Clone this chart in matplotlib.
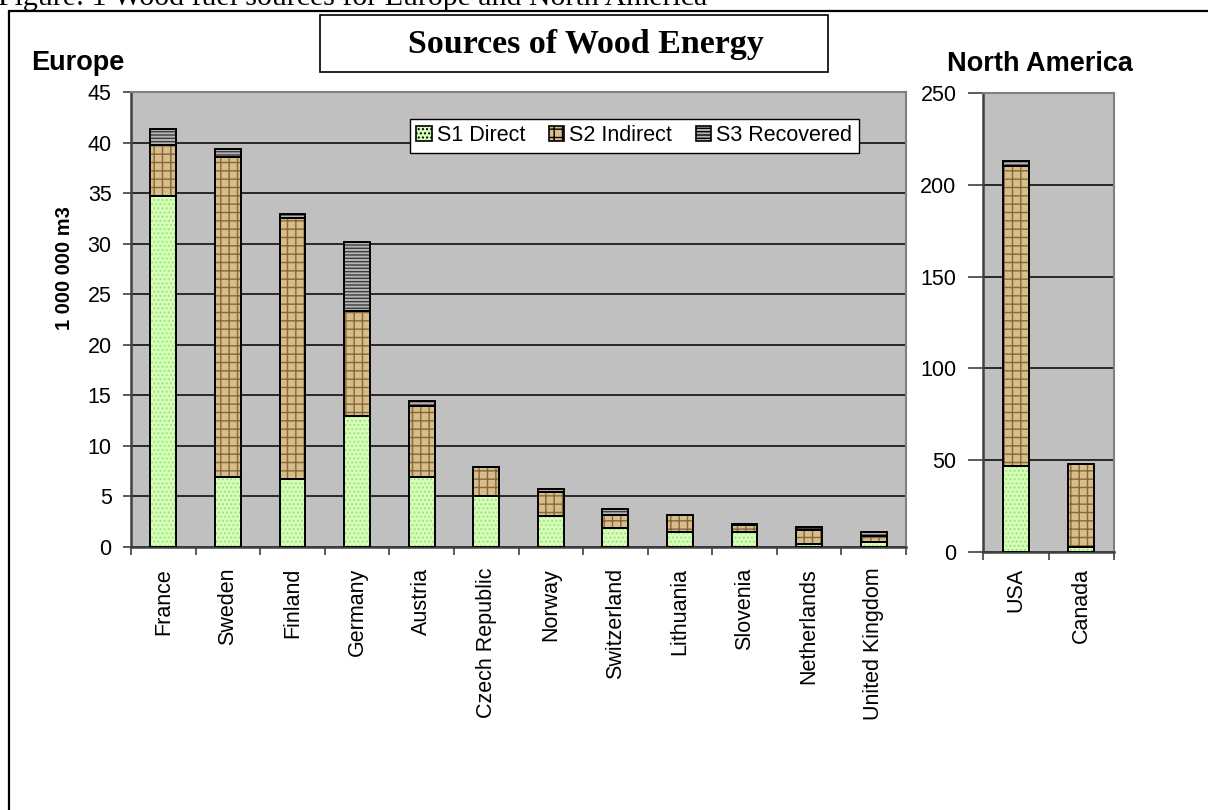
import numpy as np
import matplotlib
matplotlib.use('Agg')
import matplotlib.pyplot as plt
from matplotlib.patches import Patch, Rectangle

# --- data (1 000 000 m3) ---
europe = ['France', 'Sweden', 'Finland', 'Germany', 'Austria', 'Czech Republic',
          'Norway', 'Switzerland', 'Lithuania', 'Slovenia', 'Netherlands', 'United Kingdom']
eu_direct = [34.75, 6.9, 6.75, 13.0, 6.9, 5.0, 3.1, 1.9, 1.45, 1.5, 0.3, 0.5]
eu_indirect = [5.0, 31.7, 25.75, 10.3, 7.05, 2.9, 2.35, 1.25, 1.75, 0.7, 1.35, 0.6]
eu_recovered = [1.55, 0.8, 0.4, 6.9, 0.5, 0.0, 0.3, 0.6, 0.0, 0.05, 0.3, 0.4]

namerica = ['USA', 'Canada']
na_direct = [46.8, 2.9]
na_indirect = [163.2, 44.9]
na_recovered = [3.0, 0.0]

series_names = ['S1 Direct', 'S2 Indirect', 'S3 Recovered']

# fill colour, hatch colour, hatch
styles = [('#d6ffb8', '#a2e284', '....'),
          ('#d6bd8a', '#86663a', '++'),
          ('#b4b4b4', '#3c3c3c', '-----')]

plt.rcParams['font.family'] = ['Liberation Sans', 'DejaVu Sans']
plt.rcParams['hatch.linewidth'] = 1.0

W, H = 1208, 810
fig = plt.figure(figsize=(W / 100, H / 100), dpi=100)


def fx(px):
    return px / W


def fy(py):
    return 1 - py / H


def stacked(ax, names, layers, xlabel_pad, ytick_len):
    x = np.arange(len(names))
    bottom = np.zeros(len(names))
    for vals, (fc, hc, h) in zip(layers, styles):
        vals = np.array(vals)
        ax.bar(x, vals, 0.4, bottom=bottom, color=fc, edgecolor=hc,
               hatch=h, linewidth=0, zorder=2)
        ax.bar(x, vals, 0.4, bottom=bottom, facecolor='none',
               edgecolor='black', linewidth=1.4, zorder=3)
        bottom += vals
    ax.set_facecolor('#c0c0c0')
    ax.set_xlim(-0.5, len(names) - 0.5)
    ax.set_xticks(np.arange(-0.5, len(names), 1))
    ax.set_xticklabels([])
    ax.set_xticks(x, minor=True)
    ax.set_xticklabels(names, minor=True, rotation=90, fontsize=15.5)
    ax.tick_params(axis='x', which='minor', length=0, pad=xlabel_pad)
    ax.tick_params(axis='x', which='major', length=6, width=1.2, color='#404040')
    ax.tick_params(axis='y', length=ytick_len, width=1.2, color='#404040', pad=8,
                   labelsize=15.5)
    ax.yaxis.grid(True, color='black', linewidth=1.1, zorder=0.5)
    ax.set_axisbelow(True)
    for s in ['top', 'right']:
        ax.spines[s].set_color('#808080')
        ax.spines[s].set_linewidth(1.5)
    for s in ['left', 'bottom']:
        ax.spines[s].set_color('#404040')
        ax.spines[s].set_linewidth(1.8)


ax1 = fig.add_axes([fx(131), fy(547), fx(906) - fx(131), fy(92) - fy(547)])
stacked(ax1, europe, [eu_direct, eu_indirect, eu_recovered], 15, 6)
ax1.set_ylim(0, 45)
ax1.set_yticks(np.arange(0, 46, 5))

ax2 = fig.add_axes([fx(983), fy(552), fx(1114) - fx(983), fy(93) - fy(552)])
stacked(ax2, namerica, [na_direct, na_indirect, na_recovered], 11.5, 11)
ax2.set_ylim(0, 250)
ax2.set_yticks(np.arange(0, 251, 50))

# outer frame and caption (caption is cut by the top edge, as in the source)
fig.patches.append(Rectangle((fx(9), -0.02), 1.05, fy(11) + 0.02, fill=False,
                             edgecolor='black', linewidth=1.6,
                             transform=fig.transFigure, figure=fig))
fig.text(fx(-2), fy(5), 'Figure: 1 Wood fuel sources for Europe and North America',
         family=['Liberation Serif', 'DejaVu Serif'], fontsize=21.5,
         ha='left', va='baseline')

# title box
fig.patches.append(Rectangle((fx(320), fy(72)), fx(828) - fx(320), fy(15) - fy(72),
                             facecolor='white', edgecolor='black', linewidth=1.2,
                             transform=fig.transFigure, figure=fig))
fig.text(fx(586), fy(45), 'Sources of Wood Energy', family=['Liberation Serif', 'DejaVu Serif'],
         fontsize=24.5, fontweight='bold', ha='center', va='center')

fig.text(fx(31), fy(70), 'Europe', fontsize=19.5, fontweight='bold', ha='left', va='baseline')
fig.text(fx(1040), fy(71), 'North America', fontsize=19.5, fontweight='bold',
         ha='center', va='baseline')
fig.text(fx(64), fy(268), '1 000 000 m3', fontsize=14.5, fontweight='bold',
         rotation=90, ha='center', va='center')

handles = [Patch(facecolor=fc, edgecolor='black', hatch=h, linewidth=1.2)
           for fc, hc, h in styles]
leg = fig.legend(handles, series_names, loc='upper left',
                 bbox_to_anchor=(fx(410), fy(119)), ncol=3, fontsize=15.5,
                 frameon=True, fancybox=False, borderaxespad=0,
                 handlelength=0.7, handleheight=0.7, handletextpad=0.25,
                 columnspacing=1.1, borderpad=0.3)
leg.get_frame().set_edgecolor('black')
leg.get_frame().set_linewidth(1.0)
leg.get_frame().set_alpha(1.0)

fig.savefig('out.png', dpi=100)
